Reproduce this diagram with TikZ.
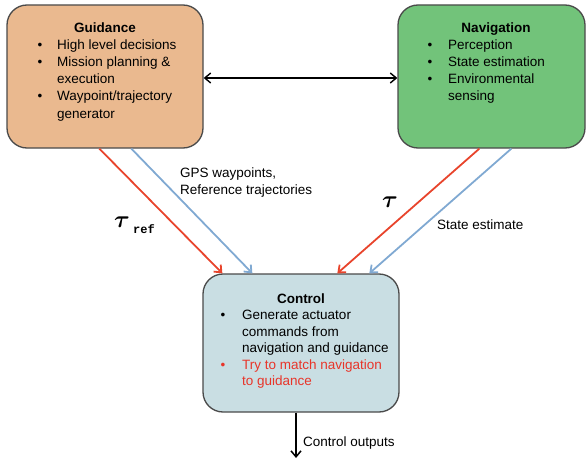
\RequirePackage{fix-cm}
\documentclass[tikz,border=0pt]{standalone}
\usepackage{fontspec}
\setmainfont{Liberation Sans}
\setmonofont{Liberation Mono}
\usepackage{bm}
\usetikzlibrary{arrows.meta}

\definecolor{guidfill}{HTML}{EAB98F}
\definecolor{navfill}{HTML}{72C37A}
\definecolor{ctrlfill}{HTML}{C9DEE3}
\definecolor{redline}{HTML}{E8442C}
\definecolor{blueline}{HTML}{80A9D2}
\definecolor{boxline}{HTML}{4A4A4A}
\definecolor{redtext}{HTML}{E8352A}

\begin{document}
\begin{tikzpicture}[x=1pt,y=-1pt,
  panel/.style={draw=boxline, line width=1.3pt, rounded corners=20pt, inner sep=0pt},
  body/.style={inner sep=0pt, font=\fontsize{13.5}{17}\selectfont},
  txt/.style={body, anchor=base west},
  dot/.style={body, anchor=base},
  heading/.style={body, anchor=base, font=\fontsize{13.5}{17}\selectfont\bfseries},
  barb/.tip={Straight Barb[length=6pt,width=10pt]},
  link/.style={line width=1.8pt, -barb},
  bilink/.style={line width=1.4pt, barb-barb}]

\useasboundingbox (0,0) rectangle (587,460);

% the three blocks
\node[panel, fill=guidfill, minimum width=196pt, minimum height=143pt] (guid) at (105,76.5) {};
\node[panel, fill=navfill, minimum width=187pt, minimum height=143pt] (nav) at (491.5,76.5) {};
\node[panel, fill=ctrlfill, minimum width=196pt, minimum height=138pt] (ctrl) at (301,343) {};

% Guidance text
\node[heading] (gt) at (105,33) {Guidance};
\node[dot] (gb1) at (40,50) {\textbullet};
\node[txt] (g1) at (57,50) {High level decisions};
\node[dot] (gb2) at (40,67) {\textbullet};
\node[txt] (g2) at (57,67) {Mission planning \&};
\node[txt] (g3) at (57,84) {execution};
\node[dot] (gb3) at (40,101) {\textbullet};
\node[txt] (g4) at (57,101) {Waypoint/trajectory};
\node[txt] (g5) at (57,118) {generator};

% Navigation text
\node[heading] (nt) at (496,33) {Navigation};
\node[dot] (nb1) at (430,50) {\textbullet};
\node[txt] (n1) at (448,50) {Perception};
\node[dot] (nb2) at (430,67) {\textbullet};
\node[txt] (n2) at (448,67) {State estimation};
\node[dot] (nb3) at (430,84) {\textbullet};
\node[txt] (n3) at (448,84) {Environmental};
\node[txt] (n4) at (448,101) {sensing};

% Control text
\node[heading] (ct) at (301,303) {Control};
\node[dot] (cb1) at (223,319) {\textbullet};
\node[txt] (c1) at (242,319) {Generate actuator};
\node[txt] (c2) at (242,336) {commands from};
\node[txt] (c3) at (242,352) {navigation and guidance};
\node[dot, text=redtext] (cb2) at (223,369) {\textbullet};
\node[txt, text=redtext] (c4) at (242,369) {Try to match navigation};
\node[txt, text=redtext] (c5) at (242,385) {to guidance};

% connectors
\draw[bilink] ([yshift=-1.5pt]guid.east) -- ([yshift=-1.5pt]nav.west);

\draw[link, redline] ([xshift=93pt]guid.south west) -- ([xshift=20pt]ctrl.north west);
\draw[link, blueline] ([xshift=125pt]guid.south west) -- ([xshift=50pt]ctrl.north west);
\draw[link, redline] ([xshift=82pt]nav.south west) -- ([xshift=135pt]ctrl.north west);
\draw[link, blueline] ([xshift=114pt]nav.south west) -- ([xshift=167pt]ctrl.north west);

\coordinate (out) at (296,458);
\draw[link, line width=1.5pt, black] (ctrl.south -| out) -- (out);

% labels
\node[txt] (gps1) at (180,177) {GPS waypoints,};
\node[txt] (gps2) at (180,194) {Reference trajectories};
\node[txt] (se) at (437,229) {State estimate};
\node[txt] (co) at (303,446) {Control outputs};

\node[inner sep=0pt, anchor=base west, font=\fontsize{24}{24}\selectfont] (tref) at (114,227) {$\bm{\tau}$};
\node[inner sep=0pt, anchor=base west, font=\fontsize{12}{12}\selectfont\ttfamily\bfseries] (sref) at (133,233) {ref};
\node[inner sep=0pt, anchor=base west, font=\fontsize{24}{24}\selectfont] (tnav) at (382,207) {$\bm{\tau}$};

\end{tikzpicture}
\end{document}
